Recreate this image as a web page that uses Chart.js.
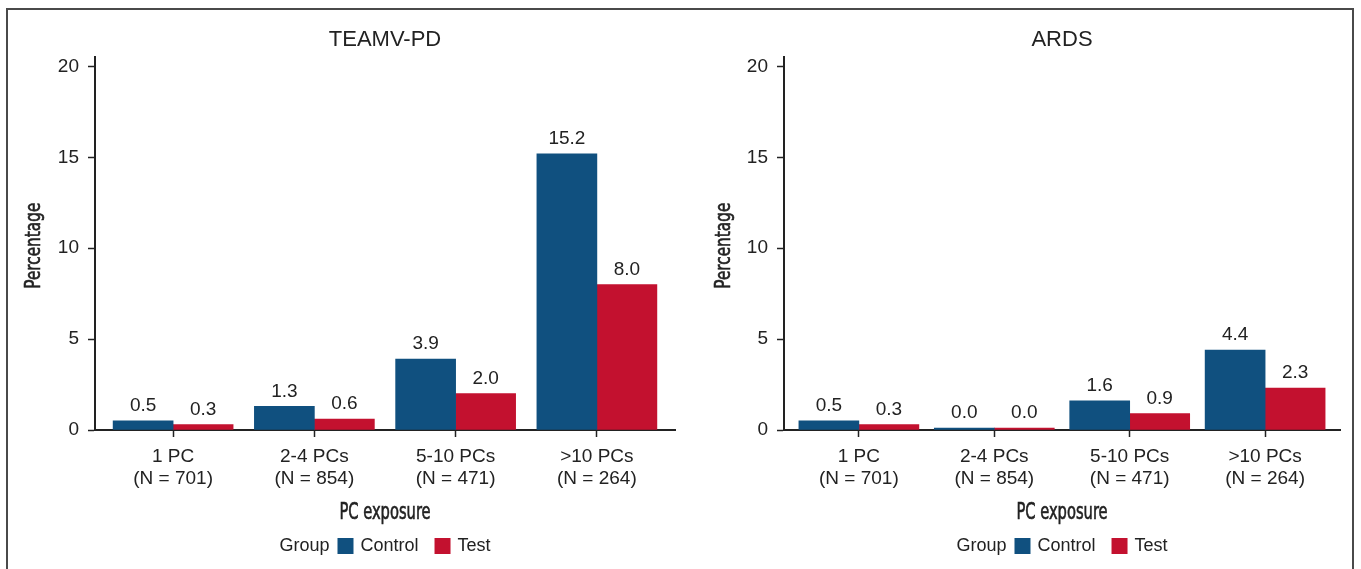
<!DOCTYPE html>
<html>
<head>
<meta charset="utf-8">
<script src="https://cdn.jsdelivr.net/npm/chart.js@4.4.1/dist/chart.umd.min.js"></script>
<style>
    body { margin: 0; background: #fff; }
    .frame {
        position: absolute; left: 6px; top: 8px; width: 1348px; height: 620px;
        border: 2px solid #4a4a4a; box-sizing: border-box;
    }
    .panel { position: absolute; top: 10px; height: 559px; }
    #panelLeft { left: 8px; width: 680px; }
    #panelRight { left: 688px; width: 668px; }
</style>
</head>
<body>
<div class="frame"></div>
<div class="panel" id="panelLeft"><canvas id="chartLeft"></canvas></div>
<div class="panel" id="panelRight"><canvas id="chartRight"></canvas></div>

<script>
// 資料
let categoryNames = ["1 PC", "2-4 PCs", "5-10 PCs", ">10 PCs"]
let categoryN = [701, 854, 471, 264]
let groupNames = ["Control", "Test"]
let groupColors = ["#10507F", "#C3112F"]
let yTicks = [0, 5, 10, 15, 20]

let teamvControl = [0.5, 1.3, 3.9, 15.2]
let teamvTest = [0.3, 0.6, 2.0, 8.0]
let ardsControl = [0.5, 0.0, 1.6, 4.4]
let ardsTest = [0.3, 0.0, 0.9, 2.3]

let fontMain = "'Liberation Sans', Arial, Helvetica, sans-serif"
let fontNarrow = "'Liberation Sans Narrow', 'DejaVu Sans Condensed', 'Roboto Condensed', sans-serif"
let textColor = "#222"


function toPoints(values){
    return values.map((v, i) => ({x: i, y: v}))
}


// 柱子上方的數值
let valueLabelPlugin = {
    id: "valueLabels",
    afterDatasetsDraw(chart){
        let ctx = chart.ctx
        ctx.save()
        ctx.font = `19px ${fontMain}`
        ctx.fillStyle = textColor
        ctx.textAlign = "center"
        ctx.textBaseline = "middle"
        chart.data.datasets.forEach((ds, d) => {
            let meta = chart.getDatasetMeta(d)
            meta.data.forEach((bar, i) => {
                ctx.fillText(ds.data[i].y.toFixed(1), bar.x, bar.y - 15)
            })
        })
        ctx.restore()
    }
}


// 軸標題 (窄字體，用 scale 壓扁，加一點描邊變粗)
function narrowText(ctx, text, x, y, size, sx, angle){
    ctx.save()
    ctx.font = `${size}px ${fontNarrow}`
    ctx.translate(x, y)
    if (angle){
        ctx.rotate(angle)
    }
    ctx.scale(sx, 1)
    ctx.fillText(text, 0, 0)
    ctx.lineWidth = 0.6
    ctx.strokeText(text, 0, 0)
    ctx.restore()
}

let axisTitlePlugin = {
    id: "axisTitles",
    afterDraw(chart, args, opts){
        let ctx = chart.ctx
        let area = chart.chartArea
        ctx.save()
        ctx.fillStyle = textColor
        ctx.strokeStyle = textColor
        ctx.textAlign = "center"
        ctx.textBaseline = "middle"

        narrowText(ctx, "PC exposure", (area.left + area.right) / 2, 503, 23, 0.71)
        narrowText(ctx, "Percentage", opts.yTitleX, (area.top + area.bottom) / 2 + 2, 21, 0.81, -Math.PI / 2)

        ctx.restore()
    }
}


// 底部圖例: Group ■ Control ■ Test
let groupLegendPlugin = {
    id: "groupLegend",
    afterDraw(chart){
        let ctx = chart.ctx
        let area = chart.chartArea
        ctx.save()
        ctx.font = `18px ${fontMain}`
        ctx.textBaseline = "middle"
        ctx.textAlign = "left"

        let box = 16
        let parts = [{text: "Group"}]
        chart.data.datasets.forEach(ds => {
            parts.push({box: ds.backgroundColor})
            parts.push({text: ds.label})
        })
        let gaps = [8, 7, 16, 7]
        let total = 0
        parts.forEach((p, i) => {
            p.w = p.text ? ctx.measureText(p.text).width : box
            total += p.w + (i < gaps.length ? gaps[i] : 0)
        })

        let x = (area.left + area.right) / 2 - total / 2
        let y = chart.height - 23
        parts.forEach((p, i) => {
            if (p.text){
                ctx.fillStyle = textColor
                ctx.fillText(p.text, x, y)
            }else{
                ctx.fillStyle = p.box
                ctx.fillRect(x, y - box / 2, box, box)
            }
            x += p.w + (i < gaps.length ? gaps[i] : 0)
        })
        ctx.restore()
    }
}


function newChart(canvasId, title, controlData, testData, yWidth, padRight, yTitleX){
    let canvas = document.querySelector(canvasId).getContext("2d")

    return new Chart(canvas, {
        type: "bar",
        data: {
            datasets: [
                {label: groupNames[0], data: toPoints(controlData), backgroundColor: groupColors[0]},
                {label: groupNames[1], data: toPoints(testData), backgroundColor: groupColors[1]},
            ]
        },
        plugins: [valueLabelPlugin, axisTitlePlugin, groupLegendPlugin],
        options: {
            responsive: true,
            maintainAspectRatio: false,
            animation: false,
            barThickness: 60,
            minBarLength: 2,
            layout: {
                padding: {left: 0, right: padRight, top: 0, bottom: 39}
            },
            scales: {
                x: {
                    type: "linear",
                    min: -0.553,
                    max: 3.553,
                    offset: false,
                    afterBuildTicks: s => { s.ticks = categoryNames.map((_, i) => ({value: i})) },
                    afterFit: s => { s.height = 100 },
                    grid: {
                        display: true,
                        offset: false,
                        drawOnChartArea: false,
                        tickLength: 7,
                        tickColor: "#222",
                        tickWidth: 1.5,
                    },
                    border: {display: true, color: "#222", width: 2},
                    ticks: {
                        callback: v => [categoryNames[v], `(N = ${categoryN[v]})`],
                        font: {family: fontMain, size: 19, lineHeight: 1.2},
                        color: textColor,
                        padding: 8,
                        maxRotation: 0,
                        autoSkip: false,
                    },
                },
                y: {
                    min: 0,
                    max: 20.5,
                    afterBuildTicks: s => { s.ticks = yTicks.map(v => ({value: v})) },
                    afterFit: s => { s.width = yWidth },
                    grid: {
                        display: true,
                        drawOnChartArea: false,
                        tickLength: 7,
                        tickColor: "#222",
                        tickWidth: 1.5,
                    },
                    border: {display: true, color: "#222", width: 2},
                    ticks: {
                        font: {family: fontMain, size: 19},
                        color: textColor,
                        padding: 9,
                    },
                },
            },
            plugins: {
                title: {
                    display: true,
                    text: title,
                    fullSize: false,
                    font: {family: fontMain, size: 22, weight: "normal"},
                    color: textColor,
                    padding: {top: 17, bottom: 4},
                },
                legend: {display: false},
                tooltip: {enabled: false},
                axisTitles: {yTitleX: yTitleX},
            },
        }
    })
}


newChart("#chartLeft", "TEAMV-PD", teamvControl, teamvTest, 87, 13, 27)
newChart("#chartRight", "ARDS", ardsControl, ardsTest, 96, 16, 37)
</script>
</body>
</html>
